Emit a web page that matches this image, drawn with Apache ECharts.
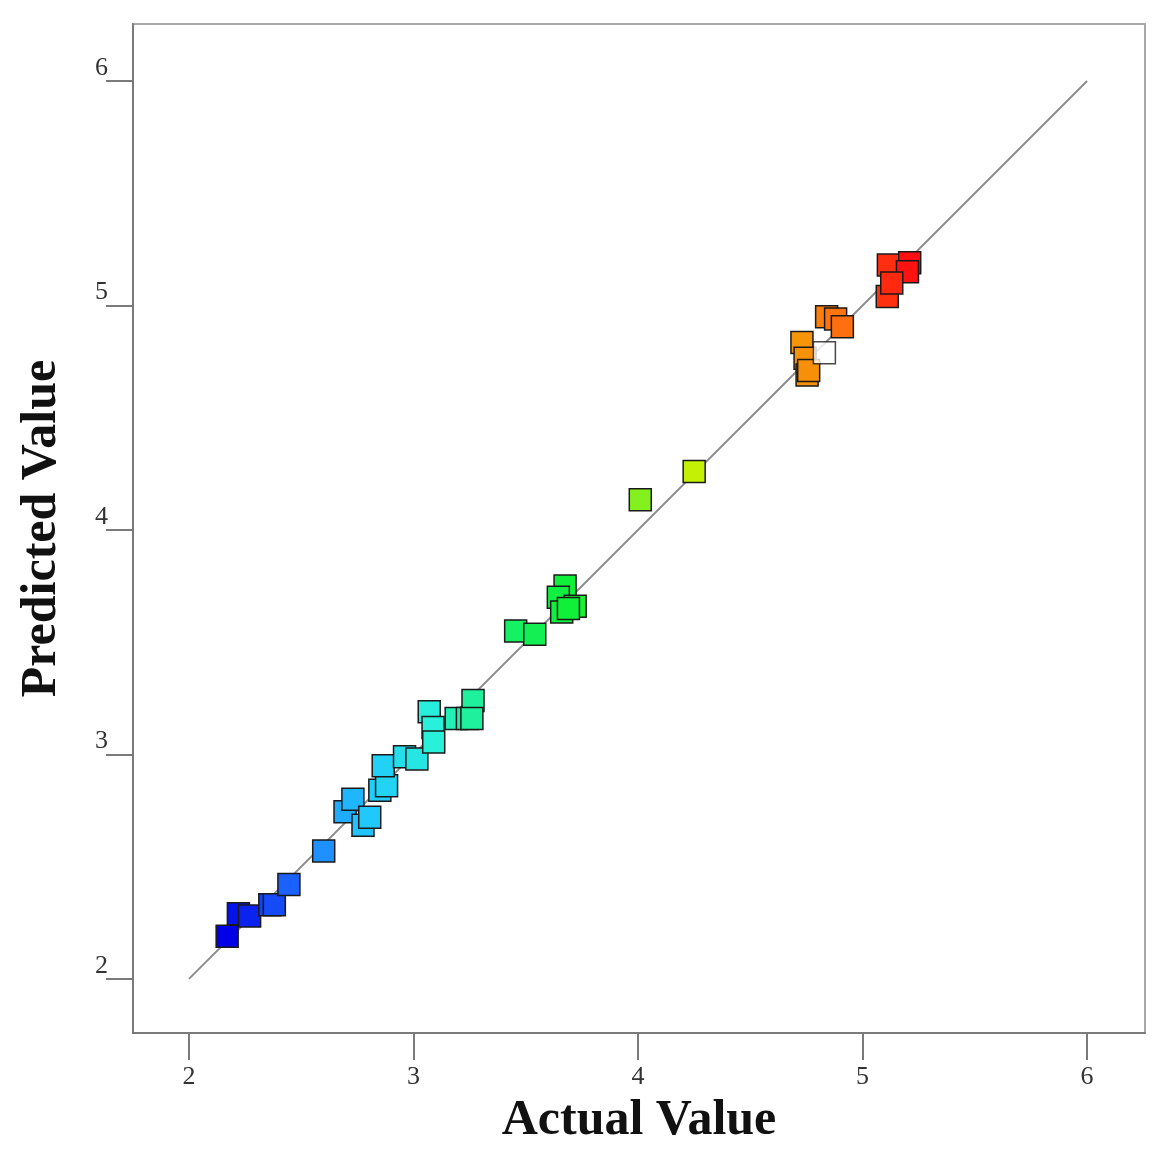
<!DOCTYPE html>
<html>
<head>
<meta charset="utf-8">
<script src="https://cdn.jsdelivr.net/npm/echarts@6/dist/echarts.min.js"></script>
<style>
  html, body { margin: 0; padding: 0; background: #fff; }
  #main { width: 1165px; height: 1170px; }
</style>
</head>
<body>
<div id="main"></div>
<script>
// actual vs predicted
const actual = [
  2.17, 2.22, 2.27, 2.36, 2.38, 2.445, 2.60,
  2.695, 2.73, 2.775, 2.805, 2.85, 2.88, 2.865, 2.96, 3.015,
  3.07, 3.087, 3.09, 3.19, 3.24, 3.265, 3.26,
  3.455, 3.54, 3.675, 3.645, 3.66, 3.72, 3.69,
  4.01, 4.25,
  4.73, 4.744, 4.753, 4.76, 4.84, 4.88, 4.91,
  5.115, 5.21, 5.20, 5.11, 5.13
];
const predicted = [
  2.19, 2.29, 2.28, 2.33, 2.33, 2.42, 2.57,
  2.745, 2.80, 2.685, 2.72, 2.84, 2.86, 2.95, 2.99, 2.98,
  3.19, 3.12, 3.055, 3.16, 3.16, 3.24, 3.16,
  3.55, 3.535, 3.75, 3.70, 3.635, 3.66, 3.65,
  4.135, 4.26,
  4.835, 4.765, 4.69, 4.71, 4.95, 4.94, 4.905,
  5.18, 5.19, 5.15, 5.04, 5.10
];
// the one unfilled square
const hollowPoint = [4.83, 4.79];
const fitLine = [[2, 2], [6, 6]];
const tickValues = [2, 3, 4, 5, 6];
const spectrum = ['#0000e6', '#1e6bff', '#20c4ff', '#28f0dc', '#18f070', '#10f038',
  '#80f020', '#d0f000', '#f0b000', '#ff7010', '#ff1010'];

const points = actual.map((a, i) => [a, predicted[i]]);

const axisStyle = {
  axisLine: { show: true, lineStyle: { color: '#7a7a7a', width: 2 } },
  axisTick: { show: true, length: 27, customValues: tickValues, lineStyle: { color: '#7a7a7a', width: 2 } },
  splitLine: { show: false }
};

const chart = echarts.init(document.getElementById('main'));
chart.setOption({
  backgroundColor: '#fff',
  animation: false,
  grid: {
    left: 133, right: 20, top: 24, bottom: 137,
    show: true, borderColor: '#a8a8a8', borderWidth: 2
  },
  xAxis: Object.assign({
    type: 'value',
    min: 1.7506, max: 6.258,
    name: 'Actual Value',
    nameLocation: 'middle',
    nameGap: 63,
    nameTextStyle: { fontFamily: 'Liberation Serif', fontWeight: 'bold', fontSize: 50, color: '#111' },
    axisLabel: {
      customValues: tickValues, margin: 31,
      fontFamily: 'Liberation Serif', fontSize: 26, color: '#333'
    }
  }, axisStyle),
  yAxis: Object.assign({
    type: 'value',
    min: 1.759, max: 6.254,
    name: 'Predicted Value',
    nameLocation: 'middle',
    nameGap: 66,
    nameTextStyle: { fontFamily: 'Liberation Serif', fontWeight: 'bold', fontSize: 50, color: '#111' },
    axisLabel: {
      customValues: tickValues, margin: 25, verticalAlign: 'bottom', align: 'right',
      fontFamily: 'Liberation Serif', fontSize: 26, color: '#333'
    }
  }, axisStyle),
  visualMap: {
    show: false,
    type: 'continuous',
    seriesIndex: 1,
    dimension: 0,
    min: 2.17, max: 5.21,
    inRange: { color: spectrum }
  },
  series: [
    {
      type: 'line',
      data: fitLine,
      symbol: 'none',
      lineStyle: { color: '#8c8c8c', width: 2 },
      z: 1
    },
    {
      type: 'scatter',
      data: points,
      symbol: 'rect',
      symbolSize: 22,
      itemStyle: { borderColor: '#1a1a1a', borderWidth: 1.5, opacity: 1 },
      z: 3
    },
    {
      type: 'scatter',
      data: [hollowPoint],
      symbol: 'rect',
      symbolSize: 22,
      itemStyle: { color: '#fff', borderColor: '#1a1a1a', borderWidth: 1.5 },
      z: 4
    }
  ]
});
</script>
</body>
</html>
